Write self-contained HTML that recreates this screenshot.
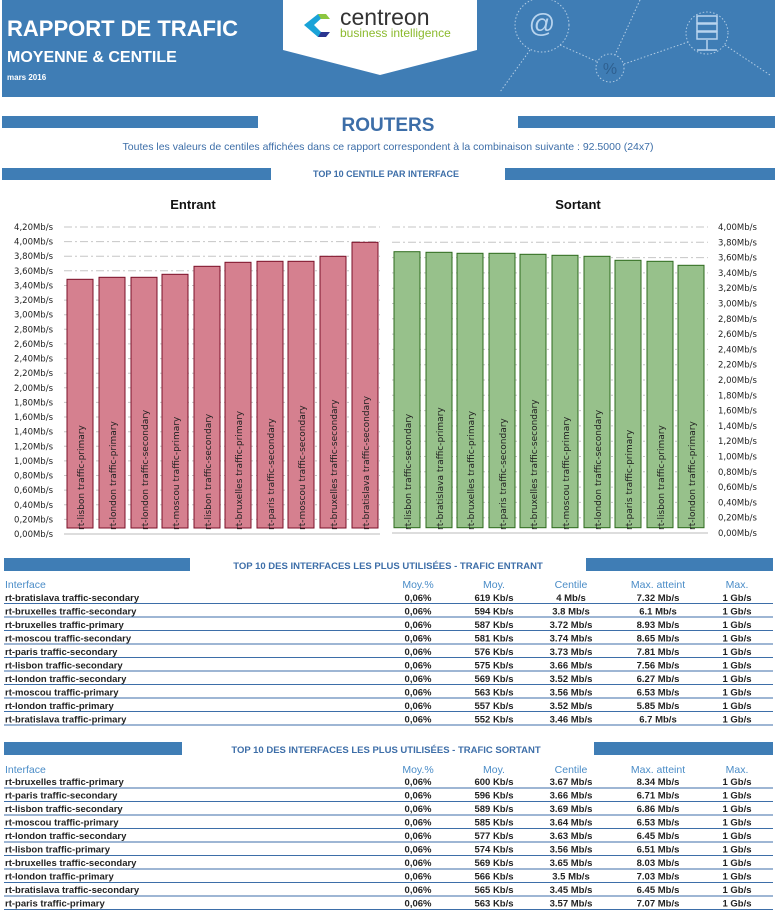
<!DOCTYPE html>
<html><head><meta charset="utf-8"><style>
html,body{margin:0;padding:0;background:#fff;}
svg{display:block;}
.t{font-family:"Liberation Sans",sans-serif;}
.d{font-family:"DejaVu Sans","Liberation Sans",sans-serif;}
</style></head><body>
<svg width="777" height="914" viewBox="0 0 777 914" xmlns="http://www.w3.org/2000/svg">
<!-- banner -->
<rect x="2" y="0" width="773" height="97" fill="#3f7db5"/>
<g fill="none" stroke="#cfe0f0" stroke-width="1" stroke-dasharray="1.5,2" opacity="0.8">
<circle cx="542" cy="25" r="27"/><circle cx="610" cy="68" r="14"/><circle cx="707" cy="33" r="21"/>
<line x1="530" y1="50" x2="500" y2="92"/><line x1="560" y1="45" x2="598" y2="62"/><line x1="624" y1="64" x2="688" y2="42"/><line x1="725" y1="45" x2="770" y2="75"/><line x1="640" y1="0" x2="615" y2="55"/>
</g>
<text x="542" y="32" class="t" font-size="26" fill="#b8d4ee" text-anchor="middle">@</text>
<text x="610" y="74" class="t" font-size="16" fill="#2f6090" text-anchor="middle">%</text>
<g fill="none" stroke="#b8d4ee" stroke-width="1.5"><rect x="697" y="16" width="20" height="7"/><rect x="697" y="24" width="20" height="7"/><rect x="697" y="32" width="20" height="7"/><line x1="707" y1="40" x2="707" y2="50"/><line x1="697" y1="50" x2="717" y2="50"/></g>
<text x="7" y="36" class="t" font-size="22" font-weight="bold" fill="#fff">RAPPORT DE TRAFIC</text>
<text x="7" y="62" class="t" font-size="16" font-weight="bold" fill="#fff">MOYENNE &amp; CENTILE</text>
<text x="7" y="80" class="t" font-size="8" font-weight="bold" fill="#fff">mars 2016</text>
<polygon points="283,0 477,0 477,50 380,75 283,50" fill="#fff"/>
<path d="M318,14 L304,25 L318,37 L326,37 L314,25 L326,14 Z" fill="#1aa3d8"/>
<path d="M318,14 L326,14 L330,19 L321,19 Z" fill="#8cc63f"/>
<path d="M318,37 L326,37 L330,32 L321,32 Z" fill="#2a3590"/>
<text x="340" y="25" class="t" font-size="23" fill="#333">centreon</text>
<text x="340" y="37" class="t" font-size="12" fill="#8cba2e">business intelligence</text>
<!-- ROUTERS -->
<rect x="2" y="116" width="256" height="12" fill="#3f7db5"/>
<rect x="518" y="116" width="257" height="12" fill="#3f7db5"/>
<text x="388" y="131" class="t" font-size="19" font-weight="bold" fill="#3d6ea8" text-anchor="middle">ROUTERS</text>
<text x="388" y="150" class="t" font-size="10.5" fill="#3d6ea8" text-anchor="middle">Toutes les valeurs de centiles affichées dans ce rapport correspondent à la combinaison suivante : 92.5000 (24x7)</text>
<rect x="2" y="168" width="269" height="12" fill="#3f7db5"/>
<rect x="505" y="168" width="270" height="12" fill="#3f7db5"/>
<text x="386" y="177" class="t" font-size="9" font-weight="bold" fill="#3d6ea8" text-anchor="middle">TOP 10 CENTILE PAR INTERFACE</text>
<text x="193" y="209" class="t" font-size="13" font-weight="bold" fill="#111" text-anchor="middle">Entrant</text>
<text x="578" y="209" class="t" font-size="13" font-weight="bold" fill="#111" text-anchor="middle">Sortant</text>
<!-- left chart grid -->
<g stroke="#c6c6c6" stroke-width="1" stroke-dasharray="8,3,2,3">
<line x1="64" x2="380" y1="519.4" y2="519.4"/><line x1="64" x2="380" y1="504.8" y2="504.8"/><line x1="64" x2="380" y1="490.1" y2="490.1"/><line x1="64" x2="380" y1="475.5" y2="475.5"/><line x1="64" x2="380" y1="460.9" y2="460.9"/><line x1="64" x2="380" y1="446.3" y2="446.3"/><line x1="64" x2="380" y1="431.7" y2="431.7"/><line x1="64" x2="380" y1="417" y2="417"/><line x1="64" x2="380" y1="402.4" y2="402.4"/><line x1="64" x2="380" y1="387.8" y2="387.8"/><line x1="64" x2="380" y1="373.2" y2="373.2"/><line x1="64" x2="380" y1="358.6" y2="358.6"/><line x1="64" x2="380" y1="343.9" y2="343.9"/><line x1="64" x2="380" y1="329.3" y2="329.3"/><line x1="64" x2="380" y1="314.7" y2="314.7"/><line x1="64" x2="380" y1="300.1" y2="300.1"/><line x1="64" x2="380" y1="285.5" y2="285.5"/><line x1="64" x2="380" y1="270.8" y2="270.8"/><line x1="64" x2="380" y1="256.2" y2="256.2"/><line x1="64" x2="380" y1="241.6" y2="241.6"/><line x1="64" x2="380" y1="227" y2="227"/>
</g>
<line x1="64" x2="380" y1="534" y2="534" stroke="#bbb"/>
<g class="d" font-size="8.5" fill="#222" text-anchor="end">
<text x="53" y="537">0,00Mb/s</text><text x="53" y="522.4">0,20Mb/s</text><text x="53" y="507.8">0,40Mb/s</text><text x="53" y="493.1">0,60Mb/s</text><text x="53" y="478.5">0,80Mb/s</text><text x="53" y="463.9">1,00Mb/s</text><text x="53" y="449.3">1,20Mb/s</text><text x="53" y="434.7">1,40Mb/s</text><text x="53" y="420">1,60Mb/s</text><text x="53" y="405.4">1,80Mb/s</text><text x="53" y="390.8">2,00Mb/s</text><text x="53" y="376.2">2,20Mb/s</text><text x="53" y="361.6">2,40Mb/s</text><text x="53" y="346.9">2,60Mb/s</text><text x="53" y="332.3">2,80Mb/s</text><text x="53" y="317.7">3,00Mb/s</text><text x="53" y="303.1">3,20Mb/s</text><text x="53" y="288.5">3,40Mb/s</text><text x="53" y="273.8">3,60Mb/s</text><text x="53" y="259.2">3,80Mb/s</text><text x="53" y="244.6">4,00Mb/s</text><text x="53" y="230">4,20Mb/s</text>
</g>
<g fill="#d5808f" stroke="#7a1028" stroke-width="1">
<rect x="67" y="279.3" width="26" height="248.7"/><rect x="99" y="277.3" width="26" height="250.7"/><rect x="131" y="277.3" width="26" height="250.7"/><rect x="162" y="274.3" width="26" height="253.7"/><rect x="194" y="266.3" width="26" height="261.7"/><rect x="225" y="262.3" width="26" height="265.7"/><rect x="257" y="261.3" width="26" height="266.7"/><rect x="288" y="261.3" width="26" height="266.7"/><rect x="320" y="256.3" width="26" height="271.7"/><rect x="352" y="242.3" width="26" height="285.7"/>
</g>
<g class="d" font-size="9" fill="#222">
<text transform="translate(84,530) rotate(-90)">rt-lisbon traffic-primary</text>
<text transform="translate(116,530) rotate(-90)">rt-london traffic-primary</text>
<text transform="translate(148,530) rotate(-90)">rt-london traffic-secondary</text>
<text transform="translate(179,530) rotate(-90)">rt-moscou traffic-primary</text>
<text transform="translate(211,530) rotate(-90)">rt-lisbon traffic-secondary</text>
<text transform="translate(242,530) rotate(-90)">rt-bruxelles traffic-primary</text>
<text transform="translate(274,530) rotate(-90)">rt-paris traffic-secondary</text>
<text transform="translate(305,530) rotate(-90)">rt-moscou traffic-secondary</text>
<text transform="translate(337,530) rotate(-90)">rt-bruxelles traffic-secondary</text>
<text transform="translate(369,530) rotate(-90)">rt-bratislava traffic-secondary</text>
</g>
<!-- right chart -->
<g stroke="#c6c6c6" stroke-width="1" stroke-dasharray="8,3,2,3">
<line x1="392" x2="708" y1="517.7" y2="517.7"/><line x1="392" x2="708" y1="502.4" y2="502.4"/><line x1="392" x2="708" y1="487.1" y2="487.1"/><line x1="392" x2="708" y1="471.8" y2="471.8"/><line x1="392" x2="708" y1="456.5" y2="456.5"/><line x1="392" x2="708" y1="441.2" y2="441.2"/><line x1="392" x2="708" y1="425.9" y2="425.9"/><line x1="392" x2="708" y1="410.6" y2="410.6"/><line x1="392" x2="708" y1="395.3" y2="395.3"/><line x1="392" x2="708" y1="380" y2="380"/><line x1="392" x2="708" y1="364.7" y2="364.7"/><line x1="392" x2="708" y1="349.4" y2="349.4"/><line x1="392" x2="708" y1="334.1" y2="334.1"/><line x1="392" x2="708" y1="318.8" y2="318.8"/><line x1="392" x2="708" y1="303.5" y2="303.5"/><line x1="392" x2="708" y1="288.2" y2="288.2"/><line x1="392" x2="708" y1="272.9" y2="272.9"/><line x1="392" x2="708" y1="257.6" y2="257.6"/><line x1="392" x2="708" y1="242.3" y2="242.3"/><line x1="392" x2="708" y1="227" y2="227"/>
</g>
<line x1="392" x2="708" y1="533" y2="533" stroke="#bbb"/>
<g class="d" font-size="8.5" fill="#222">
<text x="718" y="536">0,00Mb/s</text><text x="718" y="520.7">0,20Mb/s</text><text x="718" y="505.4">0,40Mb/s</text><text x="718" y="490.1">0,60Mb/s</text><text x="718" y="474.8">0,80Mb/s</text><text x="718" y="459.5">1,00Mb/s</text><text x="718" y="444.2">1,20Mb/s</text><text x="718" y="428.9">1,40Mb/s</text><text x="718" y="413.6">1,60Mb/s</text><text x="718" y="398.3">1,80Mb/s</text><text x="718" y="383">2,00Mb/s</text><text x="718" y="367.7">2,20Mb/s</text><text x="718" y="352.4">2,40Mb/s</text><text x="718" y="337.1">2,60Mb/s</text><text x="718" y="321.8">2,80Mb/s</text><text x="718" y="306.5">3,00Mb/s</text><text x="718" y="291.2">3,20Mb/s</text><text x="718" y="275.9">3,40Mb/s</text><text x="718" y="260.6">3,60Mb/s</text><text x="718" y="245.3">3,80Mb/s</text><text x="718" y="230">4,00Mb/s</text>
</g>
<g fill="#97c18b" stroke="#2d6a1c" stroke-width="1">
<rect x="394" y="251.7" width="26" height="276"/><rect x="426" y="252.3" width="26" height="275.4"/><rect x="457" y="253.3" width="26" height="274.4"/><rect x="489" y="253.3" width="26" height="274.4"/><rect x="520" y="254.3" width="26" height="273.4"/><rect x="552" y="255.3" width="26" height="272.4"/><rect x="584" y="256.3" width="26" height="271.4"/><rect x="615" y="260.3" width="26" height="267.4"/><rect x="647" y="261.3" width="26" height="266.4"/><rect x="678" y="265.3" width="26" height="262.4"/>
</g>
<g class="d" font-size="9" fill="#222">
<text transform="translate(411,530) rotate(-90)">rt-lisbon traffic-secondary</text>
<text transform="translate(443,530) rotate(-90)">rt-bratislava traffic-primary</text>
<text transform="translate(474,530) rotate(-90)">rt-bruxelles traffic-primary</text>
<text transform="translate(506,530) rotate(-90)">rt-paris traffic-secondary</text>
<text transform="translate(537,530) rotate(-90)">rt-bruxelles traffic-secondary</text>
<text transform="translate(569,530) rotate(-90)">rt-moscou traffic-primary</text>
<text transform="translate(601,530) rotate(-90)">rt-london traffic-secondary</text>
<text transform="translate(632,530) rotate(-90)">rt-paris traffic-primary</text>
<text transform="translate(664,530) rotate(-90)">rt-lisbon traffic-primary</text>
<text transform="translate(695,530) rotate(-90)">rt-london traffic-primary</text>
</g>
<!-- table entrant -->
<rect x="4" y="558" width="186" height="13" fill="#3f7db5"/>
<rect x="586" y="558" width="187" height="13" fill="#3f7db5"/>
<text x="388" y="569" class="t" font-size="9.5" font-weight="bold" fill="#3d6ea8" text-anchor="middle">TOP 10 DES INTERFACES LES PLUS UTILISÉES  - TRAFIC ENTRANT</text>
<g class="t" font-size="10.5" fill="#4a8cc7">
<text x="5" y="588">Interface</text>
<g text-anchor="middle"><text x="418" y="588">Moy.%</text><text x="494" y="588">Moy.</text><text x="571" y="588">Centile</text><text x="658" y="588">Max. atteint</text><text x="737" y="588">Max.</text></g>
</g>
<g stroke="#3d6ea8" stroke-width="1">
<line x1="4" x2="773" y1="603.5" y2="603.5"/><line x1="4" x2="773" y1="617" y2="617"/><line x1="4" x2="773" y1="630.5" y2="630.5"/><line x1="4" x2="773" y1="644" y2="644"/><line x1="4" x2="773" y1="657.5" y2="657.5"/><line x1="4" x2="773" y1="671" y2="671"/><line x1="4" x2="773" y1="684.5" y2="684.5"/><line x1="4" x2="773" y1="698" y2="698"/><line x1="4" x2="773" y1="711.5" y2="711.5"/><line x1="4" x2="773" y1="725" y2="725"/>
</g>
<g class="t" font-size="9.5" font-weight="bold" fill="#222">
<text x="5" y="601">rt-bratislava traffic-secondary</text><text x="5" y="614.5">rt-bruxelles traffic-secondary</text><text x="5" y="628">rt-bruxelles traffic-primary</text><text x="5" y="641.5">rt-moscou traffic-secondary</text><text x="5" y="655">rt-paris traffic-secondary</text><text x="5" y="668.5">rt-lisbon traffic-secondary</text><text x="5" y="682">rt-london traffic-secondary</text><text x="5" y="695.5">rt-moscou traffic-primary</text><text x="5" y="709">rt-london traffic-primary</text><text x="5" y="722.5">rt-bratislava traffic-primary</text>
<g text-anchor="middle">
<text x="418" y="601">0,06%</text><text x="418" y="614.5">0,06%</text><text x="418" y="628">0,06%</text><text x="418" y="641.5">0,06%</text><text x="418" y="655">0,06%</text><text x="418" y="668.5">0,06%</text><text x="418" y="682">0,06%</text><text x="418" y="695.5">0,06%</text><text x="418" y="709">0,06%</text><text x="418" y="722.5">0,06%</text>
<text x="494" y="601">619 Kb/s</text><text x="494" y="614.5">594 Kb/s</text><text x="494" y="628">587 Kb/s</text><text x="494" y="641.5">581 Kb/s</text><text x="494" y="655">576 Kb/s</text><text x="494" y="668.5">575 Kb/s</text><text x="494" y="682">569 Kb/s</text><text x="494" y="695.5">563 Kb/s</text><text x="494" y="709">557 Kb/s</text><text x="494" y="722.5">552 Kb/s</text>
<text x="571" y="601">4 Mb/s</text><text x="571" y="614.5">3.8 Mb/s</text><text x="571" y="628">3.72 Mb/s</text><text x="571" y="641.5">3.74 Mb/s</text><text x="571" y="655">3.73 Mb/s</text><text x="571" y="668.5">3.66 Mb/s</text><text x="571" y="682">3.52 Mb/s</text><text x="571" y="695.5">3.56 Mb/s</text><text x="571" y="709">3.52 Mb/s</text><text x="571" y="722.5">3.46 Mb/s</text>
<text x="658" y="601">7.32 Mb/s</text><text x="658" y="614.5">6.1 Mb/s</text><text x="658" y="628">8.93 Mb/s</text><text x="658" y="641.5">8.65 Mb/s</text><text x="658" y="655">7.81 Mb/s</text><text x="658" y="668.5">7.56 Mb/s</text><text x="658" y="682">6.27 Mb/s</text><text x="658" y="695.5">6.53 Mb/s</text><text x="658" y="709">5.85 Mb/s</text><text x="658" y="722.5">6.7 Mb/s</text>
<text x="737" y="601">1 Gb/s</text><text x="737" y="614.5">1 Gb/s</text><text x="737" y="628">1 Gb/s</text><text x="737" y="641.5">1 Gb/s</text><text x="737" y="655">1 Gb/s</text><text x="737" y="668.5">1 Gb/s</text><text x="737" y="682">1 Gb/s</text><text x="737" y="695.5">1 Gb/s</text><text x="737" y="709">1 Gb/s</text><text x="737" y="722.5">1 Gb/s</text>
</g></g>
<!-- table sortant -->
<rect x="4" y="742" width="178" height="13" fill="#3f7db5"/>
<rect x="594" y="742" width="179" height="13" fill="#3f7db5"/>
<text x="386" y="753" class="t" font-size="9.5" font-weight="bold" fill="#3d6ea8" text-anchor="middle">TOP 10 DES INTERFACES LES PLUS UTILISÉES - TRAFIC SORTANT</text>
<g class="t" font-size="10.5" fill="#4a8cc7">
<text x="5" y="773">Interface</text>
<g text-anchor="middle"><text x="418" y="773">Moy.%</text><text x="494" y="773">Moy.</text><text x="571" y="773">Centile</text><text x="658" y="773">Max. atteint</text><text x="737" y="773">Max.</text></g>
</g>
<g stroke="#3d6ea8" stroke-width="1">
<line x1="4" x2="773" y1="788" y2="788"/><line x1="4" x2="773" y1="801.5" y2="801.5"/><line x1="4" x2="773" y1="815" y2="815"/><line x1="4" x2="773" y1="828.5" y2="828.5"/><line x1="4" x2="773" y1="842" y2="842"/><line x1="4" x2="773" y1="855.5" y2="855.5"/><line x1="4" x2="773" y1="869" y2="869"/><line x1="4" x2="773" y1="882.5" y2="882.5"/><line x1="4" x2="773" y1="896" y2="896"/><line x1="4" x2="773" y1="909.5" y2="909.5"/>
</g>
<g class="t" font-size="9.5" font-weight="bold" fill="#222">
<text x="5" y="785">rt-bruxelles traffic-primary</text><text x="5" y="798.5">rt-paris traffic-secondary</text><text x="5" y="812">rt-lisbon traffic-secondary</text><text x="5" y="825.5">rt-moscou traffic-primary</text><text x="5" y="839">rt-london traffic-secondary</text><text x="5" y="852.5">rt-lisbon traffic-primary</text><text x="5" y="866">rt-bruxelles traffic-secondary</text><text x="5" y="879.5">rt-london traffic-primary</text><text x="5" y="893">rt-bratislava traffic-secondary</text><text x="5" y="906.5">rt-paris traffic-primary</text>
<g text-anchor="middle">
<text x="418" y="785">0,06%</text><text x="418" y="798.5">0,06%</text><text x="418" y="812">0,06%</text><text x="418" y="825.5">0,06%</text><text x="418" y="839">0,06%</text><text x="418" y="852.5">0,06%</text><text x="418" y="866">0,06%</text><text x="418" y="879.5">0,06%</text><text x="418" y="893">0,06%</text><text x="418" y="906.5">0,06%</text>
<text x="494" y="785">600 Kb/s</text><text x="494" y="798.5">596 Kb/s</text><text x="494" y="812">589 Kb/s</text><text x="494" y="825.5">585 Kb/s</text><text x="494" y="839">577 Kb/s</text><text x="494" y="852.5">574 Kb/s</text><text x="494" y="866">569 Kb/s</text><text x="494" y="879.5">566 Kb/s</text><text x="494" y="893">565 Kb/s</text><text x="494" y="906.5">563 Kb/s</text>
<text x="571" y="785">3.67 Mb/s</text><text x="571" y="798.5">3.66 Mb/s</text><text x="571" y="812">3.69 Mb/s</text><text x="571" y="825.5">3.64 Mb/s</text><text x="571" y="839">3.63 Mb/s</text><text x="571" y="852.5">3.56 Mb/s</text><text x="571" y="866">3.65 Mb/s</text><text x="571" y="879.5">3.5 Mb/s</text><text x="571" y="893">3.45 Mb/s</text><text x="571" y="906.5">3.57 Mb/s</text>
<text x="658" y="785">8.34 Mb/s</text><text x="658" y="798.5">6.71 Mb/s</text><text x="658" y="812">6.86 Mb/s</text><text x="658" y="825.5">6.53 Mb/s</text><text x="658" y="839">6.45 Mb/s</text><text x="658" y="852.5">6.51 Mb/s</text><text x="658" y="866">8.03 Mb/s</text><text x="658" y="879.5">7.03 Mb/s</text><text x="658" y="893">6.45 Mb/s</text><text x="658" y="906.5">7.07 Mb/s</text>
<text x="737" y="785">1 Gb/s</text><text x="737" y="798.5">1 Gb/s</text><text x="737" y="812">1 Gb/s</text><text x="737" y="825.5">1 Gb/s</text><text x="737" y="839">1 Gb/s</text><text x="737" y="852.5">1 Gb/s</text><text x="737" y="866">1 Gb/s</text><text x="737" y="879.5">1 Gb/s</text><text x="737" y="893">1 Gb/s</text><text x="737" y="906.5">1 Gb/s</text>
</g></g>
</svg>
</body></html>
